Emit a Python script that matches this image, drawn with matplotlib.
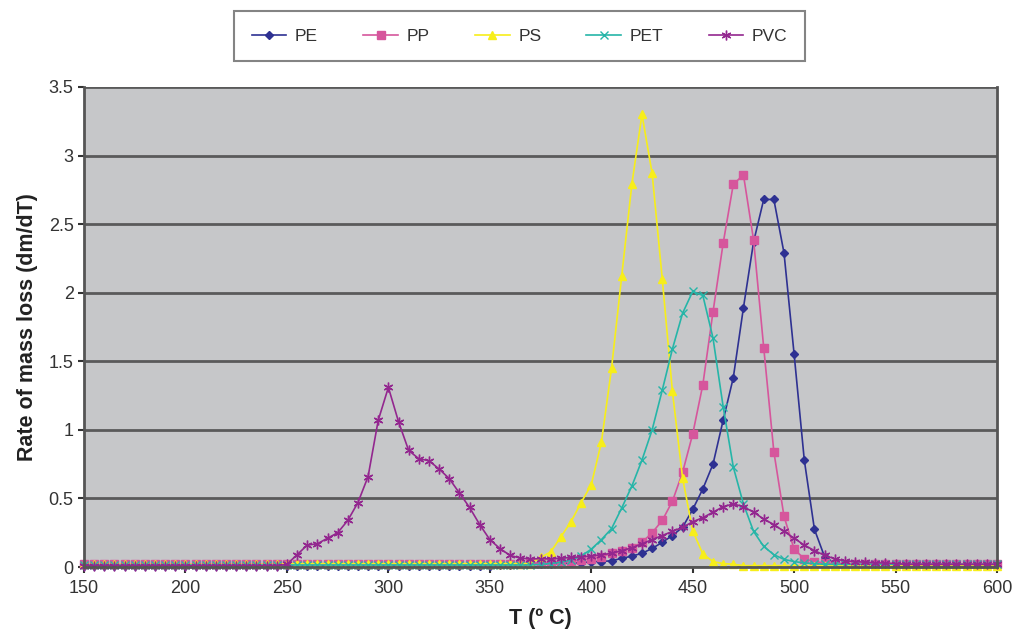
import matplotlib.pyplot as plt
from matplotlib.ticker import FormatStrFormatter

# temperature grid, 5 degree steps
temps = list(range(150, 605, 5))

pe = [0.01, 0.01, 0.01, 0.01, 0.01, 0.01, 0.01, 0.01, 0.01, 0.01,
      0.01, 0.01, 0.01, 0.01, 0.01, 0.01, 0.01, 0.01, 0.01, 0.01,
      0.01, 0.01, 0.01, 0.01, 0.01, 0.01, 0.01, 0.01, 0.01, 0.01,
      0.01, 0.01, 0.01, 0.01, 0.01, 0.01, 0.01, 0.01, 0.01, 0.01,
      0.01, 0.015, 0.015, 0.02, 0.02, 0.02, 0.025, 0.025, 0.03, 0.03,
      0.04, 0.04, 0.046, 0.063, 0.08, 0.10, 0.136, 0.18, 0.23, 0.29,
      0.42, 0.57, 0.75, 1.07, 1.38, 1.89, 2.37, 2.68, 2.68, 2.29,
      1.55, 0.78, 0.275, 0.075, 0.03, 0.02, 0.01, 0.01, 0.01, 0.01,
      0.01, 0.01, 0.01, 0.01, 0.01, 0.01, 0.01, 0.01, 0.01, 0.01,
      0.01]

pp = [0.02, 0.02, 0.02, 0.02, 0.02, 0.02, 0.02, 0.02, 0.02, 0.02,
      0.02, 0.02, 0.02, 0.02, 0.02, 0.02, 0.02, 0.02, 0.02, 0.02,
      0.02, 0.02, 0.02, 0.02, 0.02, 0.02, 0.02, 0.02, 0.02, 0.02,
      0.02, 0.02, 0.02, 0.02, 0.02, 0.02, 0.02, 0.02, 0.02, 0.02,
      0.02, 0.02, 0.025, 0.025, 0.03, 0.03, 0.035, 0.04, 0.045, 0.05,
      0.06, 0.075, 0.10, 0.12, 0.136, 0.18, 0.25, 0.34, 0.48, 0.69,
      0.97, 1.33, 1.86, 2.36, 2.79, 2.86, 2.385, 1.60, 0.84, 0.37,
      0.13, 0.06, 0.04, 0.03, 0.025, 0.02, 0.02, 0.02, 0.02, 0.02,
      0.02, 0.02, 0.02, 0.02, 0.02, 0.02, 0.02, 0.02, 0.02, 0.02,
      0.02]

ps = [0.02, 0.02, 0.02, 0.02, 0.02, 0.02, 0.02, 0.02, 0.02, 0.02,
      0.02, 0.02, 0.02, 0.02, 0.02, 0.02, 0.02, 0.02, 0.02, 0.02,
      0.025, 0.025, 0.025, 0.025, 0.025, 0.025, 0.025, 0.025, 0.025, 0.025,
      0.025, 0.025, 0.025, 0.025, 0.025, 0.025, 0.025, 0.025, 0.025, 0.025,
      0.025, 0.025, 0.025, 0.025, 0.025, 0.07, 0.11, 0.22, 0.33, 0.47,
      0.60, 0.91, 1.45, 2.12, 2.79, 3.30, 2.87, 2.10, 1.28, 0.65,
      0.265, 0.095, 0.04, 0.025, 0.02, 0.01, 0.01, 0.01, 0.01, 0.01,
      0.01, 0.01, 0.01, 0.01, 0.01, 0.01, 0.01, 0.01, 0.01, 0.01,
      0.01, 0.01, 0.01, 0.01, 0.01, 0.01, 0.01, 0.01, 0.01, 0.01,
      0.01]

pet = [0.015, 0.015, 0.015, 0.015, 0.015, 0.015, 0.015, 0.015, 0.015, 0.015,
       0.015, 0.015, 0.015, 0.015, 0.015, 0.015, 0.015, 0.015, 0.015, 0.015,
       0.015, 0.015, 0.015, 0.015, 0.015, 0.015, 0.015, 0.015, 0.015, 0.015,
       0.015, 0.015, 0.015, 0.015, 0.015, 0.015, 0.015, 0.015, 0.015, 0.015,
       0.015, 0.015, 0.015, 0.015, 0.015, 0.02, 0.025, 0.035, 0.05, 0.08,
       0.13, 0.20, 0.28, 0.43, 0.59, 0.78, 1.00, 1.29, 1.59, 1.85,
       2.01, 1.98, 1.67, 1.17, 0.73, 0.46, 0.26, 0.15, 0.09, 0.056,
       0.04, 0.03, 0.025, 0.02, 0.02, 0.02, 0.02, 0.02, 0.02, 0.02,
       0.02, 0.02, 0.02, 0.02, 0.02, 0.02, 0.02, 0.02, 0.02, 0.02,
       0.02]

pvc = [0.01, 0.01, 0.01, 0.01, 0.01, 0.01, 0.01, 0.01, 0.01, 0.01,
       0.01, 0.01, 0.01, 0.01, 0.01, 0.01, 0.01, 0.01, 0.01, 0.01,
       0.02, 0.09, 0.16, 0.17, 0.21, 0.25, 0.34, 0.47, 0.66, 1.07,
       1.31, 1.06, 0.85, 0.79, 0.775, 0.715, 0.645, 0.54, 0.435, 0.31,
       0.20, 0.135, 0.085, 0.065, 0.06, 0.06, 0.06, 0.065, 0.07, 0.075,
       0.08, 0.09, 0.10, 0.12, 0.14, 0.17, 0.20, 0.23, 0.26, 0.29,
       0.33, 0.36, 0.40, 0.44, 0.46, 0.44, 0.40, 0.35, 0.31, 0.26,
       0.21, 0.16, 0.12, 0.085, 0.06, 0.045, 0.04, 0.035, 0.03, 0.03,
       0.025, 0.02, 0.02, 0.02, 0.02, 0.02, 0.02, 0.02, 0.02, 0.02,
       0.02]

names = ['PE', 'PP', 'PS', 'PET', 'PVC']
colors = ['#2e3192', '#d6569c', '#f7ee1a', '#26b5a8', '#93278f']
markers = ['D', 's', '^', 'x', (6, 2, 0)]
msizes = [4.5, 6, 6, 6, 7]

plt.rcParams['font.family'] = ['Liberation Sans', 'DejaVu Sans']

fig = plt.figure(figsize=(10.15, 6.35), dpi=100)
ax = fig.add_axes([0.0828, 0.107, 0.8995, 0.756])
ax.set_facecolor('#c6c7c9')

for name, vals, c, m, ms in zip(names, [pe, pp, ps, pet, pvc], colors, markers, msizes):
        ax.plot(temps, vals, color=c, marker=m, markersize=ms, markeredgewidth=1.0,
                linewidth=1.2, label=name, clip_on=False)

ax.set_xlim(150, 600)
ax.set_ylim(0, 3.5)
ax.set_xticks(range(150, 601, 50))
ax.set_yticks([0, 0.5, 1, 1.5, 2, 2.5, 3, 3.5])
ax.yaxis.set_major_formatter(FormatStrFormatter('%g'))
ax.yaxis.grid(True, color='#5a5a5a', linewidth=2)
ax.set_axisbelow(True)
ax.tick_params(axis='both', labelsize=13, colors='#333333', length=4, width=1.5)
ax.tick_params(axis='x', pad=5)

for side in ['left', 'right', 'bottom', 'top']:
        ax.spines[side].set_color('#555555')
        ax.spines[side].set_linewidth(2)
ax.spines['top'].set_visible(False)

ax.set_xlabel('T (º C)', fontsize=15.5, fontweight='bold', color='#222222', labelpad=8)
ax.set_ylabel('Rate of mass loss (dm/dT)', fontsize=15.5, fontweight='bold', color='#222222', labelpad=8)

leg = fig.legend(loc='center', bbox_to_anchor=(0.512, 0.943), ncol=5, fontsize=12.5,
                 frameon=True, fancybox=False, handlelength=2.0, columnspacing=2.6,
                 borderpad=1.0, borderaxespad=0, handletextpad=0.5)
leg.get_frame().set_edgecolor('#666666')
leg.get_frame().set_linewidth(1.5)
for txt in leg.get_texts():
        txt.set_color('#333333')

fig.savefig('out.png', dpi=100)
